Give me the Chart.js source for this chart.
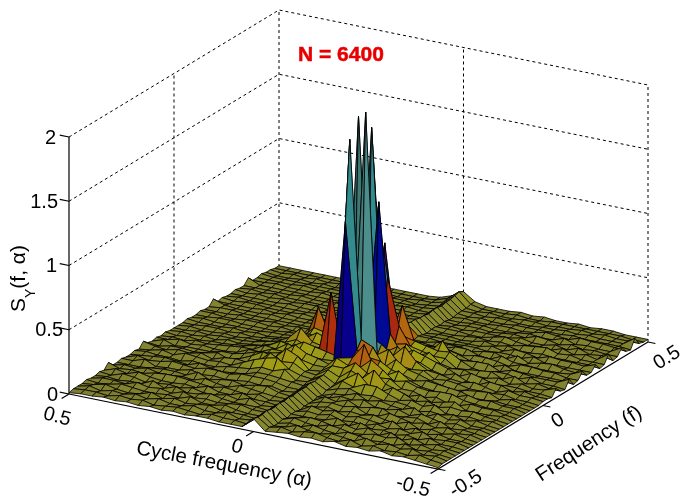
<!DOCTYPE html>
<html>
<head>
<meta charset="utf-8">
<style>
  html, body { margin: 0; padding: 0; background: #fff; }
  #wrap { width: 682px; height: 498px; position: relative; }
</style>
<script src="https://cdn.jsdelivr.net/npm/chart.js@4/dist/chart.umd.min.js"></script>
</head>
<body>
<div id="wrap"><canvas id="surfaceChart"></canvas></div>
<script>
// Tick values on the three axes
const alphaTicks = [0.5, 0, -0.5];
const freqTicks = [-0.5, 0, 0.5];
const zTicks = [0, 0.5, 1, 1.5, 2];

// Surface heights, in hundredths.
// One row per cycle frequency (0.5 down to -0.5), one column per frequency (-0.5 up to 0.5)
const surfaceRows = [
  [1,2,2,2,3,2,2,3, 2,6,2,2,3,2,2,3, 2,6,3,2,3,2,3,2, 2, 2,2,3,2,2,3,2,2, 6,2,3,2,2,3,2,2, 6,2,2,3,2,2,1,1],
  [2,3,4,3,2,4,3,2, 5,3,4,2,3,5,3,4, 3,4,2,5,3,3,2,3, 2, 3,2,2,3,2,3,2,3, 3,2,2,3,2,2,3,2, 2,2,2,2,1,1,1,1],
  [2,3,2,5,3,4,2,5, 3,4,3,2,6,3,4,3, 5,3,4,2,5,2,3,2, 3, 2,3,2,2,3,2,2,3, 2,2,3,2,2,3,2,2, 2,3,2,2,1,2,1,1],
  [3,2,4,3,5,3,3,4, 6,3,5,3,2,4,5,3, 3,5,4,3,3,4,2,3, 2, 2,3,2,2,3,2,3,2, 2,2,3,2,2,2,3,2, 2,2,2,2,2,1,1,1],
  [2,4,3,2,4,6,3,2, 4,5,3,4,3,6,4,2, 6,4,3,3,4,3,3,2, 3, 3,2,3,2,2,3,2,2, 2,3,2,2,2,3,2,2, 2,2,3,2,1,2,1,1],
  [3,3,5,3,3,4,7,3, 3,6,3,4,3,5,3,4, 5,6,4,3,3,4,3,4, 3, 2,3,2,2,2,3,2,2, 3,2,2,2,3,2,2,3, 2,2,2,2,2,1,1,1],
  [2,4,3,6,3,5,3,4, 3,6,4,3,5,4,6,3, 4,3,6,5,3,5,4,3, 3, 3,2,3,2,2,2,3,2, 2,3,2,2,2,3,2,2, 2,3,2,2,1,2,1,1],
  [3,2,5,3,4,3,6,3, 4,5,3,7,3,6,4,3, 5,6,3,5,4,6,5,4, 4, 3,3,2,3,2,3,2,2, 2,2,3,2,2,3,2,2, 2,2,2,2,2,1,1,1],
  [2,3,3,5,3,6,3,5, 3,4,6,3,4,6,3,5, 4,7,5,7,8,6,7,5, 6, 4,4,3,3,3,2,3,2, 2,2,2,3,2,2,2,3, 2,2,2,2,1,1,1,1],
  [3,4,3,3,6,3,4,3, 6,3,4,5,3,5,4,6, 8,6,9,10,8,11,9,8, 8, 6,5,4,4,3,2,3,2, 3,2,2,2,2,3,2,2, 3,2,2,2,1,1,1,1],
  [2,3,5,4,3,4,6,3, 3,5,3,6,4,7,5,7, 12,9,14,11,12,10,14,11, 13, 10,12,7,6,4,3,2,3, 2,3,2,2,2,3,2,2, 2,2,2,2,1,2,1,1],
  [3,2,3,5,3,3,4,5, 3,4,6,4,5,7,8,10, 15,17,11,13,12,16,12,15, 22, 12,13,16,30,8,6,4,3, 2,3,2,2,3,2,2,2, 3,2,2,2,2,1,1,1],
  [3,4,3,3,5,4,3,3, 6,3,5,6,4,7,8,9, 17,12,20,14,19,13,17,11, 13, 18,11,14,10,8,7,5,4, 3,2,3,2,3,2,2,2, 2,2,2,2,2,1,1,1],
  [2,3,5,3,3,5,3,6, 3,5,4,7,5,6,7,12, 10,13,16,11,14,10,15,12, 11, 15,10,12,9,10,6,5,4, 4,3,2,3,2,2,3,2, 2,2,3,2,1,2,1,1],
  [2,3,2,3,2,3,3,2, 3,2,3,4,3,4,6,5, 7,8,7,9,12,9,13,57, 12, 9,11,8,10,7,6,4,4, 3,2,3,2,2,3,2,2, 2,2,2,2,2,2,2,2],
  [2,2,3,2,2,3,2,3, 2,3,3,3,4,4,5,6, 6,7,8,9,9,10,11,12, 15, 13,10,9,8,7,6,5,4, 3,3,3,3,3,2,2,3, 2,3,2,3,3,4,5,5],
  [10,9,9,10,9,9,10,9, 10,9,10,10,10,11,10,11, 11,13,14,18,16,120,182,24, 196, 24,22,181,121,18,85,16,13, 12,28,12,11,11,10,10,9, 10,10,9,10,10,11,12,10],
  [2,3,2,2,3,2,3,3, 2,3,3,3,4,3,5,5, 6,9,14,14,18,22,28,203, 26,16,127,20,64,14,9,6, 4,4,3,4,3,2,3,3, 2,3,2,2,3,3,3,4,4],
  [3,5,3,4,6,4,3,5, 7,4,6,8,5,6,8,12, 12,16,20,14,30,18,24,16, 22, 14,26,16,28,18,12,9, 6,5,3,4,3,3,2,3, 3,2,2,3,2,3,2,2,2],
  [4,3,6,3,4,6,3,4, 5,6,7,6,8,7,10,9, 18,12,14,22,12,17,10,22, 15, 20,12,18,14,16,10,8, 6,4,5,3,3,3,2,3, 2,3,3,2,3,2,3,2,2],
  [3,5,4,6,3,5,4,6, 7,4,6,9,7,10,7,13, 9,20,12,16,10,12,18,11, 24, 13,17,10,12,14,8,9, 7,4,5,3,3,2,3,2, 3,3,3,2,2,3,2,2,2],
  [4,6,3,4,6,3,7,3, 4,6,8,5,9,6,8,13, 7,11,13,9,15,10,12,10, 14, 11,14,15,10,12,18,9, 6,7,5,4,3,3,4,2, 3,2,2,3,2,3,2,3,3],
  [3,4,5,3,5,6,3,4, 6,5,4,7,5,8,6,9, 12,8,7,11,9,7,10,11, 9, 7,11,8,10,13,6,7, 4,7,3,4,3,5,3,4, 3,3,2,3,3,2,3,2,2],
  [5,3,4,6,3,4,7,3, 5,7,4,8,5,6,7,6, 9,5,7,8,6,9,7,6, 8, 5,8,6,4,8,6,4, 6,4,5,3,5,3,4,6, 3,4,3,2,3,2,3,2,3],
  [3,6,3,5,4,7,4,6, 4,5,8,4,7,5,6,8, 5,8,4,7,5,8,5,7, 6, 8,4,7,5,4,7,4, 6,3,6,4,3,5,3,4, 5,3,4,3,3,3,2,3,2],
  [4,3,7,3,6,3,5,4, 8,4,6,5,4,8,3,5, 7,4,6,8,4,7,3,6, 5, 4,8,4,6,3,7,3, 5,7,3,4,6,3,5,3, 3,6,3,5,3,3,3,3,2],
  [3,5,4,4,5,7,3,6, 3,7,4,6,7,3,5,8, 4,6,3,8,4,6,5,4, 7, 3,6,4,7,5,3,6, 3,4,7,3,5,3,6,4, 3,5,3,4,3,4,3,3,3],
  [5,3,6,3,7,3,5,4, 6,3,6,3,5,7,4,3, 6,8,3,5,7,3,6,4, 5, 7,3,6,3,5,6,3, 6,4,3,6,3,4,7,3, 5,3,6,3,4,3,4,3,2],
  [3,4,4,6,3,6,3,7, 3,5,4,7,3,4,6,3, 5,3,6,4,5,3,7,4, 3, 6,4,3,7,3,5,3, 6,3,5,3,6,3,4,6, 3,5,3,6,3,4,3,3,3],
  [4,3,6,3,5,3,6,3, 5,3,6,3,5,6,3,4, 6,3,5,3,6,4,3,5, 6, 3,4,5,3,6,4,3, 5,3,6,3,5,3,5,3, 6,3,4,5,3,3,4,3,3],
  [3,5,3,4,3,5,3,4, 3,5,3,4,3,3,5,3, 4,3,5,3,4,3,5,3, 4, 5,3,3,5,3,4,3, 5,3,4,3,5,3,3,5, 3,4,3,5,3,3,3,3,2],
  [2,3,4,3,4,3,3,4, 3,3,4,3,4,3,3,4, 3,4,3,3,4,3,3,3, 4, 3,3,4,3,3,4,3, 3,4,3,3,4,3,3,3, 4,3,3,4,3,3,3,2,2],
  [1,2,2,2,2,2,2,2, 2,2,2,2,2,2,2,2, 2,2,2,2,2,2,2,2, 3, 3,2,7,3,2,8,2, 3,8,3,3,7,2,3,9, 2,3,8,3,2,9,3,2,2]
];

// Screen frame of the 3D box (parallel projection)
const frontCorner = { x: 438, y: 469 };
const freqEdge = { x: 210, y: -127 };
const alphaEdge = { x: -369, y: -75 };
const zUnit = 128.5;

function project(alpha, freq, z) {
  return {
    x: frontCorner.x + (freq + 0.5) * freqEdge.x + (alpha + 0.5) * alphaEdge.x,
    y: frontCorner.y + (freq + 0.5) * freqEdge.y + (alpha + 0.5) * alphaEdge.y - z * zUnit
  };
}

// Height to colour
const colourStops = [
  [0, [124, 124, 46]], [0.1, [128, 128, 44]], [0.16, [150, 150, 20]], [0.24, [158, 132, 20]], [0.28, [170, 95, 15]], [0.34, [165, 80, 14]],
  [0.58, [165, 42, 12]], [0.74, [150, 30, 20]], [0.86, [62, 0, 120]], [1.25, [0, 0, 135]],
  [1.4, [0, 70, 160]], [1.7, [35, 130, 135]], [2.1, [78, 135, 130]]
];

function heightColour(z, shade) {
  let k = 0;
  while (k < colourStops.length - 2 && z > colourStops[k + 1][0]) k++;
  const a = colourStops[k], b = colourStops[k + 1];
  const t = Math.min(1, Math.max(0, (z - a[0]) / (b[0] - a[0])));
  const c = a[1].map((v, n) => Math.min(255, Math.round((v + (b[1][n] - v) * t) * shade)));
  return `rgb(${c[0]},${c[1]},${c[2]})`;
}

const rowCount = surfaceRows.length;
const colCount = surfaceRows[0].length;
const alphaAt = i => 0.5 - i / (rowCount - 1);
const freqAt = j => -0.5 + j / (colCount - 1);
const height = (i, j) => surfaceRows[i][j] / 100;

// One filled dataset per mesh cell. The first dataset is painted last, so front cells go first.
function buildSurface() {
  const cells = [];
  for (let i = 0; i < rowCount - 1; i++) {
    for (let j = 0; j < colCount - 1; j++) {
      const corners = [[i, j], [i + 1, j], [i + 1, j + 1], [i, j + 1], [i, j]];
      const zs = corners.map(c => height(c[0], c[1]));
      const slopeFreq = (zs[2] + zs[3] - zs[0] - zs[1]) / 2;
      const slopeAlpha = (zs[1] + zs[2] - zs[0] - zs[3]) / 2;
      const shade = Math.min(1.06, Math.max(0.88, 1 + 1.5 * (slopeFreq - slopeAlpha)));
      cells.push({
        depth: (i / (rowCount - 1)) - (j / (colCount - 1)),
        dataset: {
          data: corners.map(c => project(alphaAt(c[0]), freqAt(c[1]), height(c[0], c[1]))),
          showLine: true,
          fill: 'shape',
          tension: 0,
          backgroundColor: heightColour(Math.max(...zs), shade),
          borderColor: '#000',
          borderWidth: 0.8,
          pointRadius: 0
        }
      });
    }
  }
  cells.sort((a, b) => b.depth - a.depth);
  return cells.map(c => c.dataset);
}

function lineSet(points, dashed) {
  return {
    data: points,
    showLine: true,
    fill: false,
    tension: 0,
    borderColor: '#000',
    borderWidth: dashed ? 1 : 1.2,
    borderDash: dashed ? [3, 3] : [],
    pointRadius: 0
  };
}

// Box walls, axes and tick marks
function buildFrame() {
  const sets = [];
  const zTop = zTicks[zTicks.length - 1];
  // dashed wall lines at each height
  zTicks.slice(1).forEach(z => {
    sets.push(lineSet([project(0.5, -0.5, z), project(0.5, 0.5, z), project(-0.5, 0.5, z)], true));
  });
  // dashed verticals
  sets.push(lineSet([project(0.5, 0, 0), project(0.5, 0, zTop)], true));
  sets.push(lineSet([project(0.5, 0.5, 0), project(0.5, 0.5, zTop)], true));
  sets.push(lineSet([project(0, 0.5, 0), project(0, 0.5, zTop)], true));
  sets.push(lineSet([project(-0.5, 0.5, 0), project(-0.5, 0.5, zTop)], true));
  // solid axes
  sets.push(lineSet([project(0.5, -0.5, 0), project(0.5, -0.5, zTop)], false));
  sets.push(lineSet([project(0.5, -0.5, 0), project(-0.5, -0.5, 0), project(-0.5, 0.5, 0)], false));
  // tick marks
  zTicks.forEach(z => sets.push(lineSet([project(0.5, -0.5, z), project(0.525, -0.5, z)], false)));
  alphaTicks.forEach(a => sets.push(lineSet([project(a, -0.5, 0), project(a, -0.535, 0)], false)));
  freqTicks.forEach(f => sets.push(lineSet([project(-0.5, f, 0), project(-0.52, f, 0)], false)));
  return sets;
}

// Text labels, placed around the box
const textFont = '"Liberation Sans", Arial, sans-serif';

function putText(ctx, text, x, y, angle, font, colour) {
  ctx.save();
  ctx.translate(x, y);
  ctx.rotate(angle * Math.PI / 180);
  ctx.font = font;
  ctx.fillStyle = colour || '#000';
  ctx.textAlign = 'center';
  ctx.textBaseline = 'middle';
  ctx.fillText(text, 0, 0);
  ctx.restore();
}

const labelPlugin = {
  id: 'labels',
  afterDraw(chart) {
    const ctx = chart.ctx;
    const tickFont = `20px ${textFont}`;

    // z ticks, right edges differ a little per label
    const zRightEdges = [58, 63, 57, 58, 56];
    zTicks.forEach((z, n) => {
      const p = project(0.5, -0.5, z);
      ctx.save();
      ctx.font = tickFont;
      ctx.textAlign = 'right';
      ctx.textBaseline = 'middle';
      ctx.fillStyle = '#000';
      ctx.fillText(String(z), zRightEdges[n], p.y + 1);
      ctx.restore();
    });

    // cycle frequency ticks
    const alphaSpots = [[57, 417], [237, 447], [413, 487]];
    alphaTicks.forEach((a, n) => putText(ctx, String(a), alphaSpots[n][0], alphaSpots[n][1], 15, tickFont));

    // frequency ticks
    const freqSpots = [[466, 484], [558, 421], [667, 358]];
    freqTicks.forEach((f, n) => putText(ctx, String(f), freqSpots[n][0], freqSpots[n][1], -32, tickFont));

    // axis titles
    putText(ctx, 'Cycle frequency (α)', 224, 465, 10.7, `20.5px ${textFont}`);
    putText(ctx, 'Frequency (f)', 589, 444, -33, `20.5px ${textFont}`);

    // z title, built from pieces because of the subscript
    ctx.save();
    ctx.translate(25, 312);
    ctx.rotate(-Math.PI / 2);
    ctx.textBaseline = 'alphabetic';
    ctx.fillStyle = '#000';
    ctx.font = `21px ${textFont}`;
    ctx.fillText('S', 0, 0);
    let run = ctx.measureText('S').width;
    ctx.font = `14px ${textFont}`;
    ctx.fillText('Y', run, 10);
    run += ctx.measureText('Y').width;
    ctx.font = `21px ${textFont}`;
    ctx.fillText('(f, α)', run, 0);
    ctx.restore();

    // annotation
    ctx.save();
    ctx.font = `bold 21px ${textFont}`;
    ctx.fillStyle = '#e80000';
    ctx.strokeStyle = '#e80000';
    ctx.lineWidth = 0.5;
    ctx.textBaseline = 'middle';
    ctx.strokeText('N = 6400', 298, 55);
    ctx.fillText('N = 6400', 298, 55);
    ctx.restore();
  }
};

const ctx = document.getElementById('surfaceChart').getContext('2d');
const surfaceChart = new Chart(ctx, {
  type: 'scatter',
  data: { datasets: [...buildSurface(), ...buildFrame()] },
  options: {
    responsive: true,
    maintainAspectRatio: false,
    animation: false,
    layout: { padding: 0 },
    plugins: { legend: { display: false }, tooltip: { enabled: false } },
    scales: {
      x: { type: 'linear', min: 0, max: 682, display: false },
      y: { type: 'linear', min: 0, max: 498, reverse: true, display: false }
    }
  },
  plugins: [labelPlugin]
});
</script>
</body>
</html>
